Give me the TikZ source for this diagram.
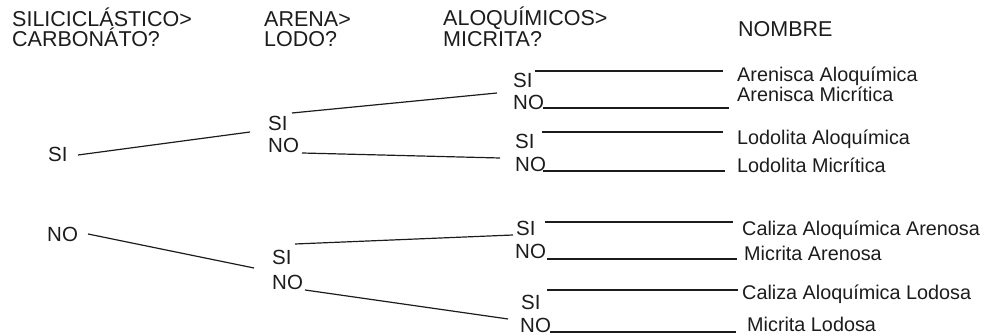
\documentclass[tikz,border=0pt]{standalone}
\usepackage{fontspec}
\setmainfont{Liberation Sans}
\definecolor{ink}{HTML}{1C1C1C}
\begin{document}
\begin{tikzpicture}[x=1pt,y=-1pt,
  lbl/.style={anchor=base west,inner sep=0pt,text=ink},
  head/.style={lbl,font=\fontsize{21.5}{21.5}\selectfont},
  ans/.style={lbl,font=\fontsize{20.5}{20.5}\selectfont},
  rname/.style={lbl,font=\fontsize{19.8}{19.8}\selectfont},
  link/.style={draw=ink,line width=1.2pt}]
\useasboundingbox (0,0) rectangle (987,336);

% column headings
\node[head] (h1a) at (12,27) {SILICICLÁSTICO>};
\node[head] (h1b) at (12,47) {CARBONÁTO?};
\node[head] (h2a) at (264,27) {ARENA>};
\node[head] (h2b) at (264,47) {LODO?};
\node[head] (h3a) at (443,26) {ALOQUÍMICOS>};
\node[head] (h3b) at (443,47) {MICRITA?};
\node[head] (h4)  at (738,37) {NOMBRE};

% first decision
\node[ans] (s) at (48,162) {SI};
\node[ans] (n) at (47,242) {NO};

% second decision
\node[ans] (as) at (268,131) {SI};
\node[ans] (an) at (268,153) {NO};
\node[ans] (bs) at (272,265) {SI};
\node[ans] (bn) at (272,290) {NO};

% third decision
\node[ans] (ass) at (513,88)  {SI};
\node[ans] (asn) at (513,110) {NO};
\node[ans] (ans) at (515,149) {SI};
\node[ans] (ann) at (515,172) {NO};
\node[ans] (bss) at (516,236) {SI};
\node[ans] (bsn) at (515,259) {NO};
\node[ans] (bns) at (521,310) {SI};
\node[ans] (bnn) at (520,333) {NO};

% rock names
\node[rname] (r1) at (737,82)  {Arenisca Aloquímica};
\node[rname] (r2) at (737,102) {Arenisca Micrítica};
\node[rname] (r3) at (737,145) {Lodolita Aloquímica};
\node[rname] (r4) at (737,173) {Lodolita Micrítica};
\node[rname] (r5) at (742,236) {Caliza Aloquímica Arenosa};
\node[rname] (r6) at (744,261) {Micrita Arenosa};
\node[rname] (r7) at (742,300) {Caliza Aloquímica Lodosa};
\node[rname] (r8) at (747,331) {Micrita Lodosa};

% line ends
\coordinate (s-o)   at (78,155);   \coordinate (as-i)  at (250,132);
\coordinate (n-o)   at (88,234);   \coordinate (bs-i)  at (254,268);
\coordinate (as-o)  at (292,113);  \coordinate (ass-i) at (497,93);
\coordinate (an-o)  at (302,153);  \coordinate (ans-i) at (500,158);
\coordinate (bs-o)  at (295,244);  \coordinate (bss-i) at (513,235);
\coordinate (bn-o)  at (305,290);  \coordinate (bns-i) at (508,319);
\coordinate (ass-o) at (535,71);   \coordinate (r1-i)  at (723,71);
\coordinate (asn-o) at (543,108);  \coordinate (r2-i)  at (729,108);
\coordinate (ans-o) at (542,132);  \coordinate (r3-i)  at (723,132);
\coordinate (ann-o) at (543,171);  \coordinate (r4-i)  at (725,171);
\coordinate (bss-o) at (545,222);  \coordinate (r5-i)  at (733,222);
\coordinate (bsn-o) at (547,259);  \coordinate (r6-i)  at (737,259);
\coordinate (bns-o) at (547,290);  \coordinate (r7-i)  at (738,290);
\coordinate (bnn-o) at (550,332);  \coordinate (r8-i)  at (736,332);

% branches
\draw[link] (s-o) -- (as-i);
\draw[link] (n-o) -- (bs-i);
\draw[link] (as-o) -- (ass-i);
\draw[link] (an-o) -- (ans-i);
\draw[link] (bs-o) -- (bss-i);
\draw[link] (bn-o) -- (bns-i);
\draw[link] (ass-o) -- (r1-i);
\draw[link] (asn-o) -- (r2-i);
\draw[link] (ans-o) -- (r3-i);
\draw[link] (ann-o) -- (r4-i);
\draw[link] (bss-o) -- (r5-i);
\draw[link] (bsn-o) -- (r6-i);
\draw[link] (bns-o) -- (r7-i);
\draw[link] (bnn-o) -- (r8-i);
\end{tikzpicture}
\end{document}
